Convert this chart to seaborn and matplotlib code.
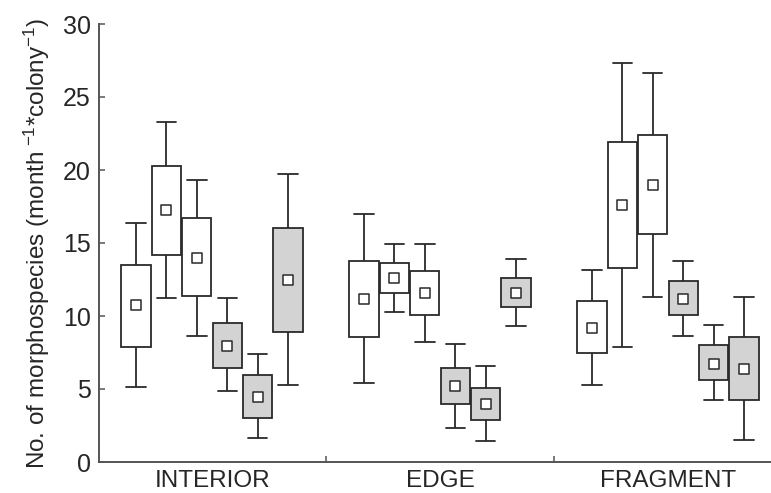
import numpy as np
import pandas as pd
import matplotlib
matplotlib.use("Agg")
import matplotlib.pyplot as plt
import seaborn as sns

groups = ["INTERIOR", "EDGE", "FRAGMENT"]
series = ["s1", "s2", "s3", "s4", "s5", "s6"]
fill_colors = ["white", "white", "white", "#d3d3d3", "#d3d3d3", "#d3d3d3"]

# per group: rows = series, values = whisker low, box low, mean, box high, whisker high
interior = [
    [5.15, 7.90, 10.75, 13.50, 16.40],
    [11.20, 14.20, 17.25, 20.30, 23.30],
    [8.65, 11.40, 14.00, 16.70, 19.30],
    [4.85, 6.45, 7.95, 9.50, 11.20],
    [1.65, 3.00, 4.45, 5.95, 7.40],
    [5.30, 8.90, 12.45, 16.05, 19.70],
]
edge = [
    [5.40, 8.57, 11.15, 13.77, 16.99],
    [10.30, 11.60, 12.60, 13.60, 14.90],
    [8.25, 10.10, 11.55, 13.10, 14.95],
    [2.35, 3.95, 5.20, 6.45, 8.10],
    [1.45, 2.90, 3.97, 5.10, 6.55],
    [9.30, 10.60, 11.55, 12.60, 13.90],
]
fragment = [
    [5.27, 7.45, 9.20, 11.00, 13.15],
    [7.90, 13.30, 17.60, 21.90, 27.30],
    [11.30, 15.60, 18.97, 22.40, 26.65],
    [8.63, 10.05, 11.15, 12.40, 13.77],
    [4.22, 5.60, 6.70, 8.00, 9.38],
    [1.53, 4.25, 6.36, 8.56, 11.30],
]
ylabel = r"No. of morphospecies (month$^{\ \mathrm{-1}}$*colony$^{\mathrm{-1}}$)"

rows = []
mean_rows = []
for g, tbl in zip(groups, [interior, edge, fragment]):
    for s, vals in zip(series, tbl):
        for v in vals:
            rows.append({"group": g, "series": s, "value": v})
        mean_rows.append({"group": g, "series": s, "mean": vals[2]})
df = pd.DataFrame(rows)
dfm = pd.DataFrame(mean_rows)

sns.set_style("white")
plt.rcParams["font.family"] = ["Liberation Sans", "DejaVu Sans"]
plt.rcParams["mathtext.fontset"] = "custom"
plt.rcParams["mathtext.rm"] = "Liberation Sans"
plt.rcParams["mathtext.it"] = "Liberation Sans:italic"

fig = plt.figure(figsize=(7.71, 4.93), dpi=100)
ax = fig.add_axes([99 / 771, 1 - 462 / 493, 1 - 99 / 771, (462 - 24) / 493])

line_c = "#2a2a2a"
pal = dict(zip(series, fill_colors))
sns.boxplot(
    data=df, x="group", y="value", hue="series", order=groups, hue_order=series,
    palette=pal, saturation=1, whis=(0, 100), gap=0.04, width=0.8,
    linecolor=line_c, linewidth=1.3, fliersize=0,
    medianprops={"visible": False}, capwidths=0.085,
    legend=False, ax=ax,
)
sns.stripplot(
    data=dfm, x="group", y="mean", hue="series", order=groups, hue_order=series,
    palette={s: "white" for s in series}, dodge=True, jitter=False,
    marker="s", size=6.8, edgecolor=line_c, linewidth=1.1,
    legend=False, zorder=10, ax=ax,
)

ax.set_xlim(-0.496, 2.452)
ax.set_ylim(0, 30)
ax.set_yticks([0, 5, 10, 15, 20, 25, 30])
ax.set_xticks([0, 1, 2])
ax.set_xticklabels(groups)
ax.set_xticks([0.5, 1.5], minor=True)
ax.set_xlabel("")
ax.set_ylabel(ylabel, fontsize=17.5, labelpad=8)

for side in ["top", "right"]:
    ax.spines[side].set_visible(False)
for side in ["left", "bottom"]:
    ax.spines[side].set_color("#555555")
    ax.spines[side].set_linewidth(1.4)

ax.tick_params(axis="y", direction="in", length=4.5, width=1.1, color="#555555",
               labelsize=18, pad=6, left=True)
ax.tick_params(axis="x", which="major", length=0, labelsize=17.5, pad=6)
ax.tick_params(axis="x", which="minor", direction="in", length=4.5, width=1.1,
               color="#555555", bottom=True)

fig.savefig("out.png", dpi=100)
